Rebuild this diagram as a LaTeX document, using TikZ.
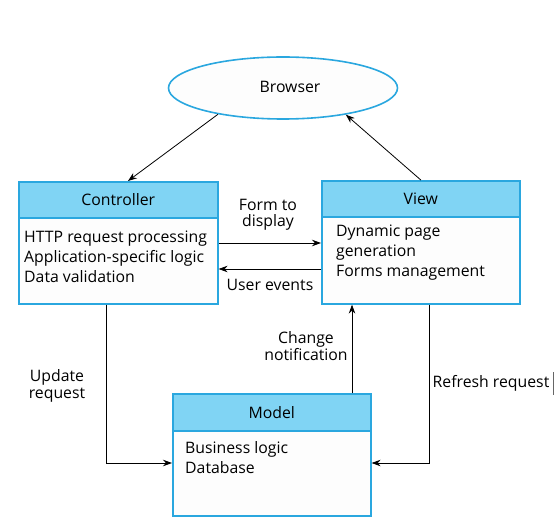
\documentclass[tikz,border=0pt]{standalone}
\usepackage{fontspec}
\setmainfont{Open Sans}
\usetikzlibrary{shapes.geometric,arrows.meta,calc}
\definecolor{bord}{HTML}{2AA7DF}
\definecolor{head}{HTML}{80D4F4}
\definecolor{bodyc}{HTML}{FDFDFD}
\begin{document}
\begin{tikzpicture}[x=1pt,y=-1pt,
  box/.style={draw=bord,line width=1.6pt,fill=bodyc,anchor=north west,inner sep=0pt},
  hdr/.style={draw=bord,line width=1.6pt,fill=head,anchor=north west,inner sep=0pt,font=\fontsize{15.8}{18}\selectfont},
  txt/.style={anchor=west,align=left,inner sep=0pt,font=\fontsize{15.8}{20}\selectfont},
  lbl/.style={align=center,inner sep=0pt,font=\fontsize{15.8}{16.5}\selectfont},
  arr/.style={-{Stealth[length=9pt,width=6.5pt]},line width=0.8pt,black}]
\useasboundingbox (0,0) rectangle (556,518);
% Browser
\node[ellipse,draw=bord,line width=1.6pt,fill=bodyc,minimum width=229pt,minimum height=62pt] (browser) at (283,88) {};
\node[font=\fontsize{15.8}{18}\selectfont,inner sep=0pt] (browsert) at (290,87) {Browser};
% Controller
\node[box,minimum width=199pt,minimum height=122pt] (ctrl) at (18,181) {};
\node[hdr,minimum width=199pt,minimum height=36pt] (ctrlh) at (ctrl.north west) {Controller};
\node[txt] (ctrlt) at (24,257) {HTTP request processing\\Application-specific logic\\Data validation};
% View
\node[box,minimum width=198pt,minimum height=123pt] (view) at (321,180) {};
\node[hdr,minimum width=198pt,minimum height=36pt] (viewh) at (view.north west) {View};
\node[txt] (viewt) at (336,253) {Dynamic page\\generation\\Forms management};
% Model
\node[box,minimum width=198pt,minimum height=122pt] (model) at (172,393) {};
\node[hdr,minimum width=198pt,minimum height=37pt] (modelh) at (model.north west) {Model};
\node[txt] (modelt) at (185,457.5) {Business logic\\Database};
% helper coordinates
\coordinate (fy) at (0,243);
\coordinate (uy) at (0,269);
\coordinate (ux) at (106,0);
\coordinate (my) at (0,463);
\coordinate (cx) at (352,0);
\coordinate (rx) at (429,0);
% connectors
\draw[arr] (browser.202) -- ($(ctrl.north west)!0.548!(ctrl.north east)$);
\draw[arr] (view.north) -- (browser.337);
\draw[arr] (ctrl.east |- fy) -- (view.west |- fy);
\draw[arr] (view.west |- uy) -- (ctrl.east |- uy);
\draw[arr] (ctrl.south -| ux) |- (model.west |- my);
\draw[arr] (model.north -| cx) -- (view.south -| cx);
\draw[arr] (view.south -| rx) |- (model.east |- my);
% labels
\node[lbl] (l1) at (268,215) {Form to\\display};
\node[lbl] (l2) at (270,285) {User events};
\node[lbl] (l3) at (57,386) {Update\\request};
\node[lbl] (l4) at (306,346) {Change\\notification};
\node[lbl] (l5) at (491,383) {Refresh request};
\draw[line width=1.5pt,black!60] (553.5,372) -- (553.5,395);
\end{tikzpicture}
\end{document}
